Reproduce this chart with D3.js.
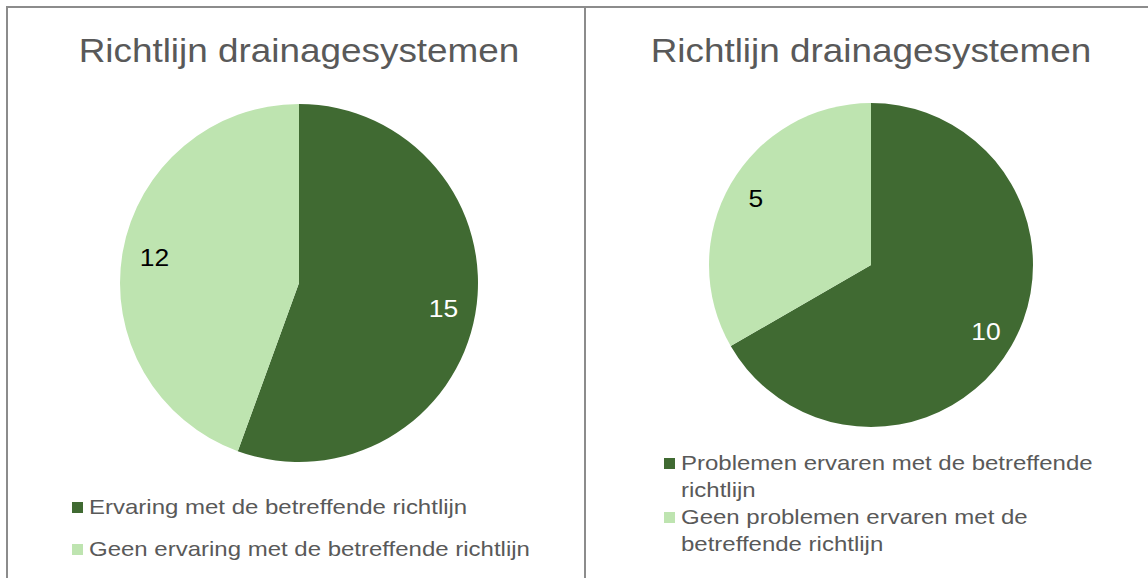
<!DOCTYPE html>
<html>
<head>
<meta charset="utf-8">
<script src="https://cdn.jsdelivr.net/npm/d3@7"></script>
<style>
  body { margin: 0; background: #fff; }
  text { font-family: "Liberation Sans", Arial, sans-serif; }
</style>
</head>
<body>
<svg width="1148" height="578"></svg>
<script>
// data
var titles = ['Richtlijn drainagesystemen', 'Richtlijn drainagesystemen'];
var leftLabels = ['Ervaring met de betreffende richtlijn', 'Geen ervaring met de betreffende richtlijn'];
var leftValues = [15, 12];
var rightLabels = ['Problemen ervaren met de betreffende richtlijn', 'Geen problemen ervaren met de betreffende richtlijn'];
var rightValues = [10, 5];

var svg = d3.select('svg');

var color = d3.scaleOrdinal().domain([0, 1]).range(['#406a32', '#bee4b0']);
var labelColor = ['#ffffff', '#000000'];

// the original text is a bit wider than Arial, stretch it horizontally
var titleStretch = 1.135, legendStretch = 1.2, labelStretch = 1.1;

var pie = d3.pie()
	.sort(null)
	.value(function(d){ return d; });

// panel borders
svg.append('rect')
	.attr('x', 7).attr('y', 7)
	.attr('width', 578).attr('height', 620)
	.attr('fill', 'none').attr('stroke', '#8c8c8c').attr('stroke-width', 2);
svg.append('rect')
	.attr('x', 585).attr('y', 7)
	.attr('width', 620).attr('height', 620)
	.attr('fill', 'none').attr('stroke', '#8c8c8c').attr('stroke-width', 2);

function drawPie(cfg){
	var g = svg.append('g')
		.attr('transform', 'translate(' + cfg.cx + ',' + cfg.cy + ')');

	svg.append('text')
		.attr('transform', 'translate(' + cfg.cx + ',62) scale(' + titleStretch + ',1)')
		.attr('text-anchor', 'middle')
		.attr('font-size', '32.5px')
		.attr('fill', '#595959')
		.text(cfg.title);

	var path = d3.arc()
		.outerRadius(cfg.r)
		.innerRadius(0);

	var label = d3.arc()
		.outerRadius(cfg.r * 0.82 * 2)
		.innerRadius(0);

	var arc = g.selectAll('.arc')
		.data(pie(cfg.values))
		.enter().append('g')
			.attr('class', 'arc');

	arc.append('path')
		.attr('d', path)
		.attr('fill', function(d, i){ return color(i); });

	arc.append('text')
		.attr('transform', function(d){ return 'translate(' + label.centroid(d) + ') scale(' + labelStretch + ',1)'; })
		.attr('text-anchor', 'middle')
		.attr('dy', '0.35em')
		.attr('font-size', '24px')
		.attr('fill', function(d, i){ return labelColor[i]; })
		.text(function(d){ return d.data; });

	// legend
	var y = cfg.legendY;
	var maxW = cfg.wrap / legendStretch;
	cfg.labels.forEach(function(lab, i){
		svg.append('rect')
			.attr('x', cfg.legendX - 17)
			.attr('y', y - 12)
			.attr('width', 11).attr('height', 11)
			.attr('fill', color(i));
		var t = svg.append('text')
			.attr('transform', 'translate(' + cfg.legendX + ',' + y + ') scale(' + legendStretch + ',1)')
			.attr('font-size', '20px')
			.attr('fill', '#595959');
		var words = lab.split(' '), line = [], lines = 0;
		var ts = t.append('tspan').attr('x', 0).attr('y', 0);
		words.forEach(function(w){
			line.push(w);
			ts.text(line.join(' '));
			if (ts.node().getComputedTextLength() > maxW && line.length > 1) {
				line.pop();
				ts.text(line.join(' '));
				line = [w];
				lines++;
				ts = t.append('tspan').attr('x', 0).attr('y', lines * cfg.lineH).text(w);
			}
		});
		y += (lines + 1) * cfg.lineH + cfg.gap;
	});
}

drawPie({ cx: 299, cy: 283, r: 179, title: titles[0], values: leftValues, labels: leftLabels,
	legendX: 89, legendY: 514, wrap: 480, lineH: 27, gap: 15 });
drawPie({ cx: 871, cy: 265, r: 162, title: titles[1], values: rightValues, labels: rightLabels,
	legendX: 681, legendY: 470, wrap: 430, lineH: 27, gap: 0 });
</script>
</body>
</html>
